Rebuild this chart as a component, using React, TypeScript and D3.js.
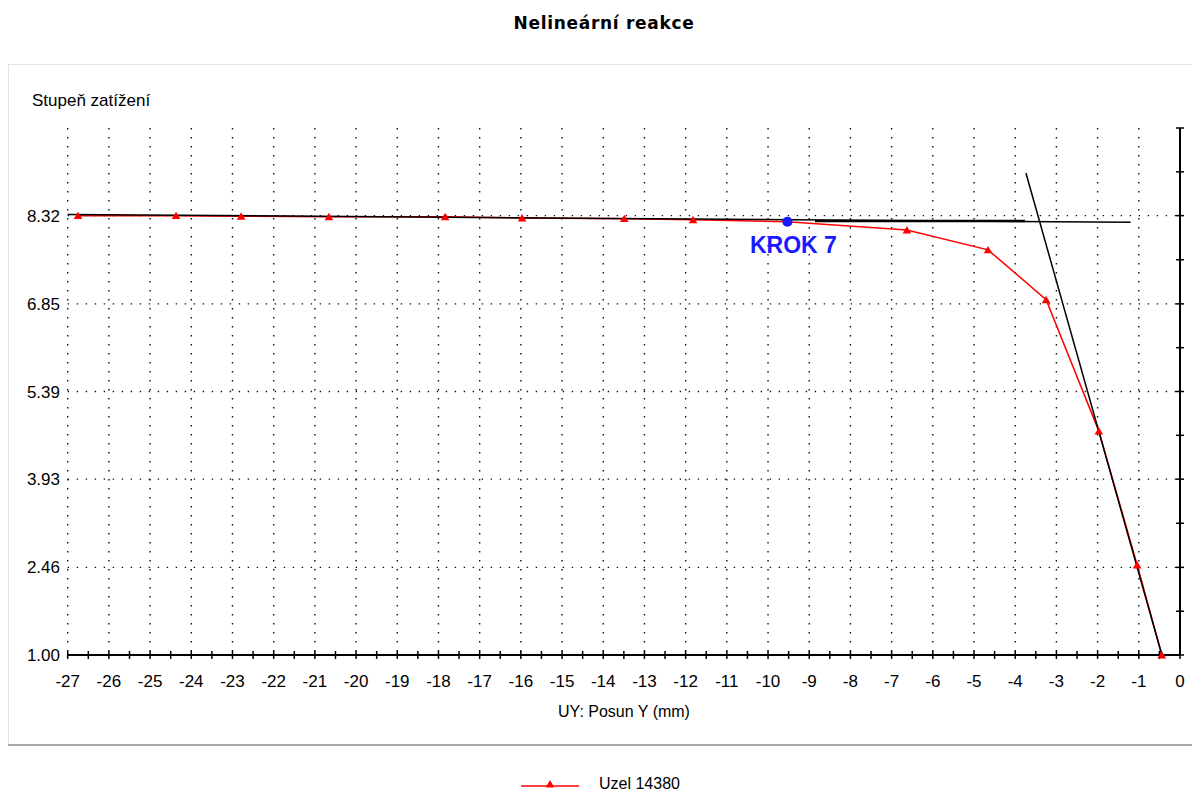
import React, { useEffect, useRef } from 'react';
import * as d3 from 'd3';

// load steps of node 14380 (displacement UY in mm, load factor)
const uyValues = [-0.44, -1.04, -1.97, -3.25, -4.66, -6.63, -9.53, -11.82, -13.49, -15.97, -17.84, -20.66, -22.79, -24.37, -26.75];
const loadValues = [1.0, 2.5, 4.73, 6.92, 7.75, 8.08, 8.22, 8.25, 8.27, 8.28, 8.3, 8.3, 8.31, 8.32, 8.32];

// helper lines (tangents) drawn in black
const tangentLines = [
  { x: [-27, -1.2], y: [8.34, 8.21], w: 1.5 },
  { x: [-8.86, -3.76], y: [8.23, 8.23], w: 2.5 },
  { x: [-3.74, -0.44], y: [9.03, 1.0], w: 1.5 },
];

const xTicks = d3.range(-27, 1, 1);
const yTicks = [1.0, 2.46, 3.93, 5.39, 6.85, 8.32];
const yTop = 9.78;

const stepIndex = 6; // KROK 7
const stepLabel = 'KROK 7';
const seriesName = 'Uzel 14380';

const W = 1192;
const H = 793;
const font = '"Liberation Sans", Arial, sans-serif';

const App = () => {
  const ref = useRef<HTMLDivElement>(null);

  useEffect(() => {
    const root = d3.select(ref.current);
    root.select('svg').remove();

    const svg = root.append('svg').attr('width', W).attr('height', H).style('display', 'block');

    svg.append('rect').attr('width', W).attr('height', H).attr('fill', '#ffffff');

    // panel frame
    svg.append('rect').attr('x', 8.5).attr('y', 64.5).attr('width', W).attr('height', 680)
      .attr('fill', 'none').attr('stroke', '#e2e2e2');
    svg.append('line').attr('x1', 8).attr('x2', W).attr('y1', 745).attr('y2', 745)
      .attr('stroke', '#a8a8a8').attr('stroke-width', 2);

    const x = d3.scaleLinear().domain([-27, 0]).range([67.7, 1180]);
    const y = d3.scaleLinear().domain([1, yTop]).range([655, 128]);

    // title
    svg.append('text').attr('x', 604).attr('y', 29).attr('text-anchor', 'middle')
      .style('font-family', '"DejaVu Sans", Verdana, sans-serif').style('font-weight', 'bold')
      .style('font-size', '17px').style('letter-spacing', '0.7px').text('Nelineární reakce');

    // grid
    const g = svg.append('g');
    g.selectAll('.vgrid').data(xTicks.filter(d => d < 0)).enter().append('line')
      .attr('x1', d => x(d)).attr('x2', d => x(d)).attr('y1', y(yTop)).attr('y2', y(1))
      .attr('stroke', '#111').attr('stroke-width', 1.4).attr('stroke-dasharray', '1.4 7.6');
    g.selectAll('.hgrid').data(yTicks.filter(d => d > 1)).enter().append('line')
      .attr('x1', x(-27)).attr('x2', x(0)).attr('y1', d => y(d)).attr('y2', d => y(d))
      .attr('stroke', '#111').attr('stroke-width', 1.4).attr('stroke-dasharray', '1.4 7.6');

    // x axis
    svg.append('line').attr('x1', x(-27)).attr('x2', x(0)).attr('y1', y(1)).attr('y2', y(1))
      .attr('stroke', '#000').attr('stroke-width', 2);
    svg.selectAll('.xminor').data(d3.range(-27, 0.01, 0.5)).enter().append('line')
      .attr('x1', d => x(d)).attr('x2', d => x(d)).attr('y1', y(1) - 4).attr('y2', y(1) + 4)
      .attr('stroke', '#000').attr('stroke-width', 1.5);
    svg.selectAll('.xlab').data(xTicks).enter().append('text')
      .attr('x', d => x(d)).attr('y', 687).attr('text-anchor', 'middle')
      .style('font-family', font).style('font-size', '17px').text(d => String(d));

    // right axis
    svg.append('line').attr('x1', x(0)).attr('x2', x(0)).attr('y1', y(yTop)).attr('y2', y(1))
      .attr('stroke', '#000').attr('stroke-width', 2);
    const yMinor: number[] = [];
    yTicks.forEach((d, i) => {
      yMinor.push(d);
      const next = i < yTicks.length - 1 ? yTicks[i + 1] : yTop;
      yMinor.push((d + next) / 2);
    });
    yMinor.push(yTop);
    svg.selectAll('.yminor').data(yMinor).enter().append('line')
      .attr('x1', x(0) - 4).attr('x2', x(0) + 4).attr('y1', d => y(d)).attr('y2', d => y(d))
      .attr('stroke', '#000').attr('stroke-width', 1.5);

    // y labels
    svg.selectAll('.ylab').data(yTicks).enter().append('text')
      .attr('x', 60).attr('y', d => y(d) + 6).attr('text-anchor', 'end')
      .style('font-family', font).style('font-size', '17px').text(d => d.toFixed(2));

    svg.append('text').attr('x', 32).attr('y', 106).style('font-family', font)
      .style('font-size', '17px').text('Stupeň zatížení');
    svg.append('text').attr('x', 624).attr('y', 717).attr('text-anchor', 'middle')
      .style('font-family', font).style('font-size', '16px').text('UY: Posun Y (mm)');

    const pts = uyValues.map((v, i) => [v, loadValues[i]] as [number, number]);

    // red series line
    const line = d3.line<[number, number]>().x(d => x(d[0])).y(d => y(d[1]));
    svg.append('path').datum(pts).attr('d', line).attr('fill', 'none')
      .attr('stroke', '#ff0000').attr('stroke-width', 1.5);

    // black tangents
    tangentLines.forEach(t => {
      svg.append('line').attr('x1', x(t.x[0])).attr('x2', x(t.x[1]))
        .attr('y1', y(t.y[0])).attr('y2', y(t.y[1]))
        .attr('stroke', '#000').attr('stroke-width', t.w);
    });

    // markers
    const tri = d3.symbol().type(d3.symbolTriangle).size(32);
    svg.selectAll('.mk').data(pts).enter().append('path')
      .attr('d', tri as any).attr('transform', d => `translate(${x(d[0])},${y(d[1]) + 1})`)
      .attr('fill', '#ff0000');

    // current step
    const sp = pts[stepIndex];
    svg.append('circle').attr('cx', x(sp[0])).attr('cy', y(sp[1])).attr('r', 5).attr('fill', '#1a1aff');
    svg.append('text').attr('x', 750).attr('y', 253).style('font-family', font)
      .style('font-size', '23px').style('font-weight', 'bold').attr('fill', '#1a1aff').text(stepLabel);

    // legend
    svg.append('line').attr('x1', 521).attr('x2', 579).attr('y1', 786).attr('y2', 786)
      .attr('stroke', '#ff0000').attr('stroke-width', 1.5);
    svg.append('path').attr('d', tri as any).attr('transform', 'translate(550,785)').attr('fill', '#ff0000');
    svg.append('text').attr('x', 599).attr('y', 789).style('font-family', font)
      .style('font-size', '16px').text(seriesName);
  }, []);

  return <div ref={ref} style={{ position: 'absolute', left: 0, top: 0 }} />;
};

export default App;
